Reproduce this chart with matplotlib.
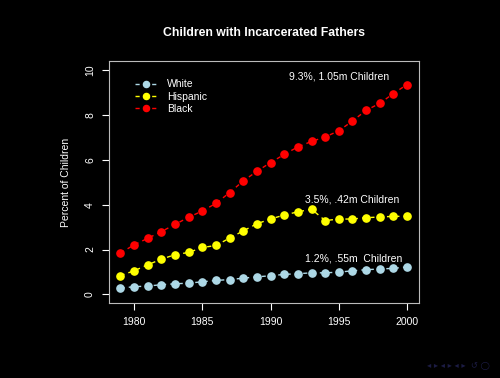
import matplotlib
matplotlib.use("Agg")
import matplotlib.pyplot as plt

years = list(range(1979, 2001))
white = [0.28, 0.34, 0.37, 0.43, 0.47, 0.50, 0.56, 0.62, 0.66, 0.72, 0.78,
         0.83, 0.89, 0.92, 0.96, 0.96, 0.99, 1.05, 1.10, 1.13, 1.16, 1.22]
hispanic = [0.84, 1.05, 1.32, 1.57, 1.77, 1.87, 2.09, 2.18, 2.51, 2.83, 3.15,
            3.36, 3.54, 3.68, 3.80, 3.29, 3.36, 3.36, 3.42, 3.45, 3.48, 3.48]
black = [1.84, 2.21, 2.50, 2.80, 3.12, 3.44, 3.72, 4.06, 4.54, 5.06, 5.49,
         5.88, 6.24, 6.58, 6.82, 7.02, 7.30, 7.73, 8.21, 8.52, 8.96, 9.36]
series_names = ["White", "Hispanic", "Black"]
series_colors = ["lightblue", "yellow", "red"]
annotations = ["9.3%, 1.05m Children", "3.5%, .42m Children", "1.2%, .55m  Children"]
annot_pos = [(1995.0, 9.70), (1996.0, 4.21), (1996.05, 1.59)]
title = "Children with Incarcerated Fathers"
ylabel = "Percent of Children"

plt.rcParams['font.family'] = ['Liberation Sans', 'DejaVu Sans']

fig = plt.figure(figsize=(5.0, 3.78), dpi=100)
fig.patch.set_facecolor('black')
ax = fig.add_axes([0.218, 0.1976, 0.619, 0.6404])
ax.set_facecolor('black')

for vals, name, col in zip([white, hispanic, black], series_names, series_colors):
    ax.plot(years, vals, linestyle=(0, (3, 3)), color=col, linewidth=1.0,
            marker='o', markersize=5.2, markerfacecolor=col, markeredgecolor=col,
            label=name)

for txt, (x, y) in zip(annotations, annot_pos):
    ax.text(x, y, txt, color='white', fontsize=7.5, ha='center', va='center')

ax.set_xlim(1978.16, 2000.84)
ax.set_ylim(-0.4, 10.4)
ax.set_xticks([1980, 1985, 1990, 1995, 2000])
ax.set_yticks([0, 2, 4, 6, 8, 10])
for lab in ax.get_yticklabels():
    lab.set_rotation(90)
    lab.set_va('center')
ax.tick_params(colors='white', labelcolor='white', labelsize=7.5,
               direction='out', length=5, width=0.8, pad=5)
for sp in ax.spines.values():
    sp.set_color('#bbbbbb')
    sp.set_linewidth(0.8)

ax.set_title(title, color='white', fontsize=8.8, fontweight='bold', pad=18)
ax.set_ylabel(ylabel, color='white', fontsize=7.5, labelpad=10)

leg = ax.legend(loc='upper left', bbox_to_anchor=(0.06, 0.955), frameon=False,
                fontsize=7.5, labelcolor='white', handlelength=2.2,
                handletextpad=0.9, labelspacing=0.2, borderaxespad=0.3,
                markerscale=0.85)

fig.text(0.98, 0.02, "◂ ▸ ◂ ▸ ◂ ▸  ↺ ◯", color='#1c1c44', fontsize=6,
         ha='right', va='bottom', family=['DejaVu Sans'])

fig.savefig('out.png', dpi=100, facecolor='black')
